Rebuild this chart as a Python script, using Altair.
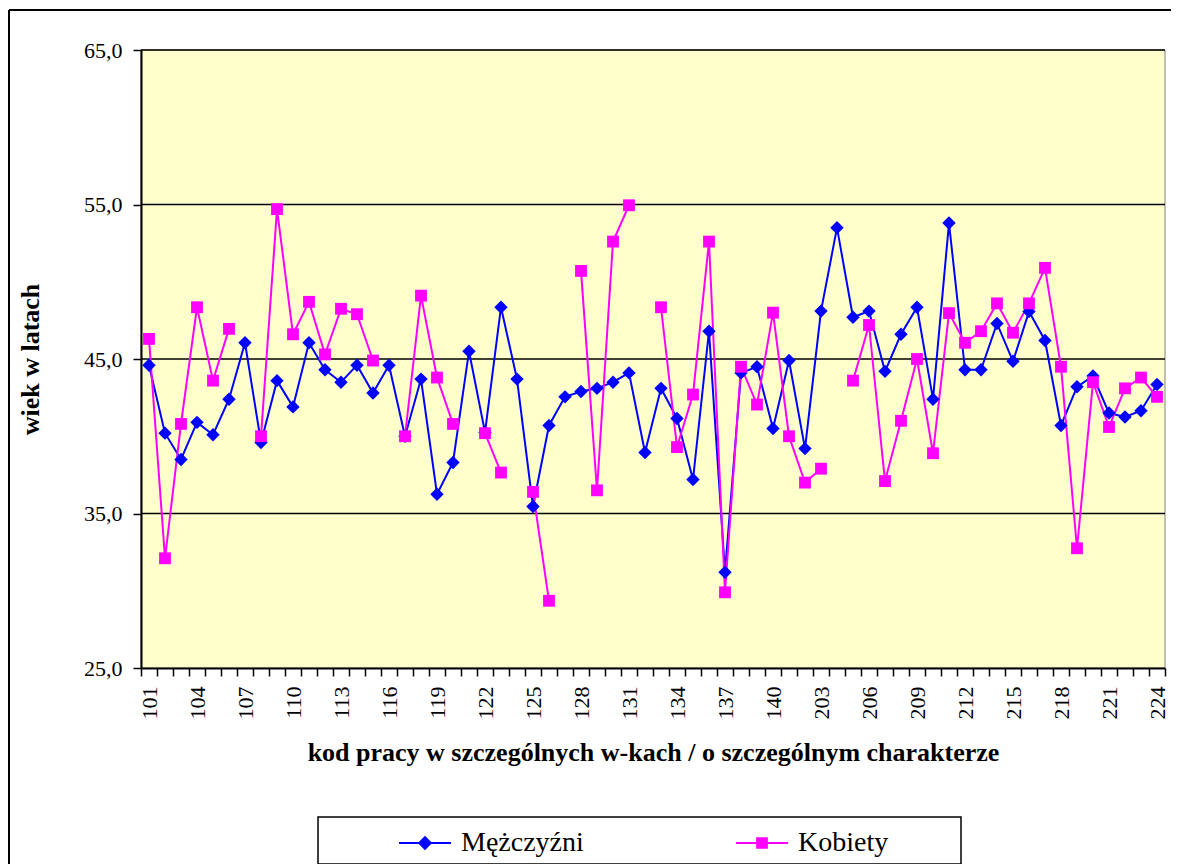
import json
import altair as alt
import pandas as pd

# ---------------- data ----------------
codes = [str(c) for c in range(101, 141)] + [str(c) for c in range(201, 225)]

men = [44.6, 40.2, 38.5, 40.9, 40.1, 42.4, 46.05, 39.6, 43.6, 41.9,
       46.05, 44.3, 43.5, 44.6, 42.8, 44.6, 40.0, 43.7, 36.25, 38.3,
       45.5, 40.25, 48.35, 43.7, 35.45, 40.7, 42.55, 42.9, 43.1, 43.5,
       44.1, 38.95, 43.1, 41.15, 37.2, 46.8, 31.2, 44.1, 44.5, 40.5,
       44.9, 39.2, 48.1, 53.5, 47.7, 48.1, 44.2, 46.6, 48.35, 42.4,
       53.8, 44.3, 44.3, 47.3, 44.85, 48.07, 46.2, 40.7, 43.2, 43.9,
       41.5, 41.25, 41.65, 43.35]

women = [46.3, 32.1, 40.8, 48.35, 43.6, 46.95, None, 40.0, 54.7, 46.6,
         48.7, 45.3, 48.25, 47.9, 44.9, None, 40.0, 49.1, 43.8, 40.8,
         None, 40.2, 37.65, None, 36.4, 29.35, None, 50.7, 36.5, 52.6,
         54.95, None, 48.35, 39.3, 42.7, 52.6, 29.9, 44.5, 42.05, 48.0,
         40.0, 37.0, 37.9, None, 43.6, 47.2, 37.1, 41.0, 45.0, 38.9,
         47.97, 46.05, 46.8, 48.6, 46.7, 48.6, 50.9, 44.5, 32.75, 43.5,
         40.6, 43.1, 43.8, 42.55]

tick_labels = ["101", "104", "107", "110", "113", "116", "119", "122", "125",
               "128", "131", "134", "137", "140", "203", "206", "209", "212",
               "215", "218", "221", "224"]
y_ticks = [25, 35, 45, 55, 65]
grid_values = [35, 45, 55, 65]

series = ["Mężczyźni", "Kobiety"]
colors = ["#0000FF", "#FF00FF"]

df = pd.DataFrame({
    "code": codes * 2,
    "series": [series[0]] * len(codes) + [series[1]] * len(codes),
    "value": men + women,
})
grid_df = pd.DataFrame({"value": grid_values})
one = pd.DataFrame({"k": [0]})

# ---------------- layout ----------------
W, H = 1024, 618
FONT = "Liberation Serif"

x_enc = alt.X(
    "code:O",
    scale=alt.Scale(type="band", domain=codes, paddingInner=0, paddingOuter=0),
    bandPosition=0.5,
    axis=alt.Axis(
        title="kod pracy w szczególnych w-kach / o szczególnym charakterze",
        labelExpr=f"indexof({json.dumps(tick_labels)}, datum.value) >= 0 ? datum.value : ''",
        labelAngle=270, labelAlign="right", labelBaseline="middle",
        labelPadding=10, labelFont=FONT, labelFontSize=22, labelColor="black",
        labelOverlap=False, labelFlush=False,
        tickBand="extent", tickSize=8, tickColor="black", tickWidth=1.5,
        domainColor="black", domainWidth=2, grid=False, zindex=1,
        titleFont=FONT, titleFontSize=26, titleFontWeight="bold", titleColor="black",
        titleX=W / 2, titleY=84, titleAlign="center", titleBaseline="middle",
    ),
)

y_enc = alt.Y(
    "value:Q",
    scale=alt.Scale(domain=[25, 65], nice=False, zero=False),
    axis=alt.Axis(
        values=y_ticks, format=".1f", labelExpr="replace(datum.label, '.', ',')",
        title="wiek w latach",
        labelFont=FONT, labelFontSize=22, labelColor="black", labelPadding=11,
        tickSize=8, tickColor="black", tickWidth=1.5,
        domainColor="black", domainWidth=2, grid=False, zindex=1,
        titleFont=FONT, titleFontSize=26, titleFontWeight="bold", titleColor="black",
        titleX=-111, titleY=H / 2, titleAngle=270, titleAlign="center", titleBaseline="middle",
    ),
)

base = alt.Chart(df)

# plot-area background (light yellow, grey frame)
plot_bg = alt.Chart(one).mark_rect(fill="#FFFFCC", stroke="#808080", strokeWidth=1).encode(
    x=alt.value(0), x2=alt.value(W), y=alt.value(0), y2=alt.value(H)
)

# horizontal gridlines
grid = alt.Chart(grid_df).mark_rule(color="black", strokeWidth=1.5).encode(y=y_enc)

lines = []
points = []
for name, col, shp, sz in [(series[0], colors[0], "diamond", 180),
                           (series[1], colors[1], "square", 140)]:
    sub = base.transform_filter(alt.datum.series == name)
    lines.append(
        sub.mark_line(color=col, strokeWidth=2, invalid="break-paths-show-domains")
        .encode(x=x_enc, y=y_enc)
    )
    points.append(
        sub.transform_filter("isValid(datum.value)")
        .mark_point(shape=shp, filled=True, size=sz, opacity=1, color=col)
        .encode(x=x_enc, y=y_enc)
    )

# legend symbols: a short line through a diamond / a square
legend_paths = [
    "M-2,-0.08L2,-0.08L2,0.08L-2,0.08Z M0,-0.55L0.55,0L0,0.55L-0.55,0Z",
    "M-2,-0.08L2,-0.08L2,0.08L-2,0.08Z M-0.45,-0.45L0.45,-0.45L0.45,0.45L-0.45,0.45Z",
]

legend_def = alt.Legend(
    title=None, orient="none", legendX=270, legendY=779, direction="horizontal",
    padding=0, labelFont=FONT, labelFontSize=28, labelColor="black",
    labelOffset=22, columnPadding=152, symbolSize=676, symbolStrokeWidth=0,
    symbolOpacity=1, labelLimit=0, zindex=2,
)

legend_layer = base.transform_filter("false").mark_point(
    filled=True, opacity=1, size=676
).encode(
    color=alt.Color("series:N", scale=alt.Scale(domain=series, range=colors), legend=legend_def),
    shape=alt.Shape("series:N", scale=alt.Scale(domain=series, range=legend_paths),
                    legend=legend_def),
)

legend_box = alt.Chart(one).mark_rect(fill="white", stroke="black", strokeWidth=1.5).encode(
    x=alt.value(177), x2=alt.value(820), y=alt.value(767), y2=alt.value(814)
)

border_left = alt.Chart(one).mark_rule(color="black", strokeWidth=2).encode(
    x=alt.value(-132), y=alt.value(-40), y2=alt.value(H + 200)
)
border_top = alt.Chart(one).mark_rule(color="black", strokeWidth=2).encode(
    y=alt.value(-40), x=alt.value(-132), x2=alt.value(W + 6)
)

chart = alt.layer(
    plot_bg, grid, border_left, border_top, legend_box,
    lines[0], lines[1], points[0], points[1], legend_layer
).properties(
    width=W, height=H,
    autosize=alt.AutoSizeParams(type="none"),
    padding={"left": 133, "top": 42, "right": 6, "bottom": 196},
    background="white",
).configure_view(
    stroke="transparent"
)

chart.save("out.html", embed_options={"renderer": "svg", "actions": False})
